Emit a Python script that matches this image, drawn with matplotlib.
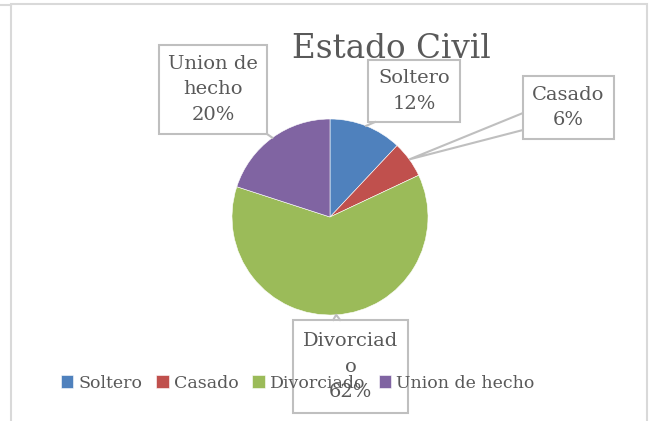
import matplotlib.pyplot as plt
from matplotlib.patches import Rectangle, Polygon
import numpy as np

W, H = 654, 421

categorias = ['Soltero', 'Casado', 'Divorciado', 'Union de hecho']
valores = [12, 6, 62, 20]
etiquetas = ['Soltero\n12%', 'Casado\n6%', 'Divorciad\no\n62%', 'Union de\nhecho\n20%']
colores = ['#4F81BD', '#C0504D', '#9BBB59', '#8064A2']

gris = '#595959'
borde = '#BFBFBF'
fuente = 'DejaVu Serif'

def Y(y):
    return H - y

fig = plt.figure(figsize=(W / 100, H / 100), dpi=100)
ax = fig.add_axes([0, 0, 1, 1])

# pastel
cx, cy, r = 330, 217, 98
wedges, _ = ax.pie(valores, colors=colores, startangle=90, counterclock=False,
                   center=(cx, Y(cy)), radius=r,
                   wedgeprops=dict(edgecolor='white', linewidth=0.4))
ax.set_xlim(0, W)
ax.set_ylim(0, H)
ax.set_aspect('equal')
ax.axis('off')

# marco del grafico
ax.add_patch(Rectangle((11, Y(430)), 636, 426, fill=False, edgecolor='#D9D9D9', lw=1.5))
ax.plot([0, 11], [Y(5), Y(5)], color='#D9D9D9', lw=1.5)

ax.text(391, Y(49), 'Estado Civil', ha='center', va='center', fontsize=23.5,
        color=gris, family=fuente)

# cajas de etiquetas (x0, y0, x1, y1) en pixeles
cajas = [(368, 60, 460, 122), (523, 76, 614, 139), (293, 320, 408, 413), (159, 45, 267, 134)]

frac = np.cumsum([0] + valores) / sum(valores)
for i, (x0, y0, x1, y1) in enumerate(cajas):
    ax.add_patch(Rectangle((x0, Y(y1)), x1 - x0, y1 - y0, fill=False,
                           edgecolor=borde, lw=1.5, zorder=3))
    ax.text((x0 + x1) / 2, Y((y0 + y1) / 2), etiquetas[i], ha='center', va='center',
            fontsize=14, color=gris, family=fuente, linespacing=1.55, zorder=4)
    ang = np.deg2rad(90 - 360 * (frac[i] + frac[i + 1]) / 2)
    px, py = cx + r * np.cos(ang), Y(cy) + r * np.sin(ang)
    if i == 0:
        ax.plot([375, px], [Y(y1), py], color=borde, lw=1.5, zorder=3)
    elif i == 1:
        ax.add_patch(Polygon([(x0, Y(113)), (px, py), (x0, Y(130))], closed=False,
                             fill=False, edgecolor=borde, lw=1.5, zorder=3))
    elif i == 2:
        ax.plot([px - 3, px, px + 4], [Y(y0), py, Y(y0)], color=borde, lw=1.5, zorder=3)
    else:
        ax.plot([x1, px], [Y(y1), py], color=borde, lw=1.5, zorder=3)

leg = ax.legend(wedges, categorias, loc='center', bbox_to_anchor=(298 / W, 1 - 383 / H),
                ncol=4, frameon=False, handlelength=0.7, handleheight=0.7,
                handletextpad=0.3, columnspacing=0.8,
                prop={'family': fuente, 'size': 12.5})
for t in leg.get_texts():
    t.set_color(gris)

plt.savefig('out.png', dpi=100)
